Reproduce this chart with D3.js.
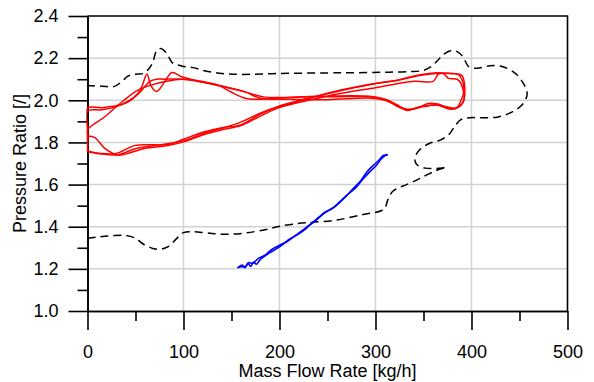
<!DOCTYPE html>
<html>
<head>
<meta charset="utf-8">
<script src="https://cdn.jsdelivr.net/npm/d3@7"></script>
<style>
  body { margin: 0; background: #fff; }
  svg { display: block; }
  text { font-family: "Liberation Sans", Arial, sans-serif; fill: #000; }
</style>
</head>
<body>
<div id="chart"></div>
<script>
// tick values
var xMajor = [0, 100, 200, 300, 400, 500];
var xMinor = [50, 150, 250, 350, 450];
var yMajor = [1.0, 1.2, 1.4, 1.6, 1.8, 2.0, 2.2, 2.4];
var yMinor = [1.1, 1.3, 1.5, 1.7, 1.9, 2.1, 2.3];

// black dashed boundary [mass flow, pressure ratio]
var boundary = [[0,1.345],[12,1.352],[25,1.357],[39,1.359],[50,1.345],[58,1.318],[68,1.297],[76,1.293],[84,1.305],[92,1.34],
  [100,1.372],[110,1.376],[125,1.37],[143,1.364],[164,1.37],[185,1.386],[200,1.402],[219,1.415],[235,1.421],[260,1.432],
  [287,1.458],[306,1.476],[310,1.49],[313,1.53],[318,1.568],[328,1.592],[340,1.615],[353,1.645],[364,1.668],[374,1.682],
  [365,1.677],[352,1.678],[343,1.695],[341,1.725],[346,1.765],[356,1.795],[368,1.812],[377,1.84],[383,1.88],[389,1.908],
  [398,1.917],[412,1.917],[428,1.921],[442,1.944],[453,1.98],[458,2.03],[454,2.08],[445,2.13],[430,2.163],[418,2.163],
  [406,2.152],[397,2.16],[393,2.19],[388,2.222],[380,2.237],[370,2.215],[365,2.19],[358,2.16],[350,2.142],[335,2.136],
  [310,2.133],[280,2.131],[250,2.13],[200,2.127],[160,2.123],[140,2.127],[122,2.14],[110,2.155],[98,2.163],[88,2.18],
  [83,2.22],[77,2.245],[72,2.235],[68,2.18],[64,2.15],[58,2.127],[50,2.124],[42,2.115],[36,2.09],[28,2.066],[15,2.067],[0,2.07]];

// red cycles
var redCycle1 = [[0,1.756],[15,1.745],[32,1.742],[50,1.77],[70,1.785],[85,1.795],[102,1.81],[119,1.84],[136,1.862],[159,1.895],
  [183,1.945],[200,1.97],[228,2.005],[263,2.045],[298,2.077],[325,2.096],[346,2.118],[367,2.128],[386,2.123],[390,2.10],
  [392,2.04],[389,2.0],[385,1.965],[378,1.957],[364,1.978],[350,1.97],[333,1.955],[322,1.972],[315,1.995],[298,2.015],
  [260,2.017],[230,2.017],[200,2.01],[175,2.005],[164,2.01],[150,2.038],[136,2.072],[119,2.088],[98,2.112],[88,2.132],
  [80,2.085],[72,2.042],[66,2.07],[62,2.125],[57,2.07],[53,2.035],[42,1.995],[32,1.976],[15,1.965],[0,1.963],[0,1.85],[0,1.756]];
var redCycle2 = [[0,1.76],[14,1.748],[30,1.748],[50,1.786],[84,1.79],[100,1.815],[120,1.848],[140,1.87],[159,1.882],[180,1.935],
  [200,1.973],[230,2.01],[265,2.05],[300,2.08],[325,2.098],[345,2.12],[370,2.128],[376,2.104],[385,2.10],[389,2.08],
  [392,2.0],[386,1.968],[378,1.962],[365,1.982],[355,1.985],[343,1.962],[333,1.958],[320,1.98],[310,2.0],[295,2.01],
  [250,2.003],[210,2.005],[180,2.01],[164,2.04],[140,2.065],[120,2.085],[100,2.10],[80,2.10],[72,2.10],[65,2.09],
  [55,2.04],[45,2.0],[30,1.97],[15,1.955],[0,1.949],[0,1.86],[0,1.76]];
var redCycle3 = [[0,1.83],[8,1.822],[18,1.772],[32,1.74],[45,1.752],[60,1.772],[84,1.785],[102,1.805],[120,1.835],[140,1.86],
  [160,1.88],[180,1.925],[200,1.965],[230,2.0],[260,2.03],[300,2.06],[340,2.09],[360,2.09],[366,2.125],[380,2.126],
  [390,2.118],[393,2.06],[391,1.99],[384,1.962],[375,1.968],[363,1.978],[345,1.968],[333,1.952],[322,1.98],[310,2.005],
  [290,2.02],[250,2.02],[215,2.015],[185,2.015],[164,2.04],[140,2.068],[118,2.09],[98,2.10],[81,2.089],[67,2.073],
  [53,2.049],[36,1.993],[18,1.922],[0,1.86],[0,1.83]];

// blue up and down passes
var blueUp = [[157,1.207],[161,1.218],[164,1.206],[167,1.226],[170,1.212],[173,1.232],[176,1.222],[180,1.245],[187,1.268],
  [195,1.29],[204,1.318],[210,1.34],[218,1.36],[226,1.385],[232,1.41],[238,1.43],[246,1.462],[252,1.48],[258,1.498],
  [265,1.528],[273,1.56],[280,1.588],[287,1.626],[294,1.66],[301,1.692],[306,1.722],[309,1.734],[312,1.745]];
var blueDown = [[313,1.74],[308,1.738],[304,1.718],[298,1.692],[291,1.66],[284,1.614],[277,1.582],[270,1.548],[262,1.512],
  [255,1.486],[247,1.468],[241,1.445],[234,1.418],[226,1.39],[217,1.36],[208,1.33],[200,1.312],[192,1.292],[184,1.262],
  [178,1.25],[172,1.226],[168,1.23],[165,1.213],[160,1.21],[156,1.205]];

var width = 594, height = 382,
    plotLeft = 87.5, plotRight = 567.5, plotTop = 16, plotBottom = 311;

var svg = d3.select("#chart")
            .append("svg")
            .attr("width", width)
            .attr("height", height);

var xScale = d3.scaleLinear().domain([0, 500]).range([plotLeft, plotRight]);
var yScale = d3.scaleLinear().domain([1.0, 2.4]).range([plotBottom, plotTop]);

// grid
svg.append("g").selectAll("line")
   .data(xMajor.slice(1, -1))
   .enter().append("line")
   .attr("x1", function(d) { return xScale(d); })
   .attr("x2", function(d) { return xScale(d); })
   .attr("y1", plotTop).attr("y2", plotBottom)
   .style("stroke", "#d2d2d2").style("stroke-width", 1.5);
svg.append("g").selectAll("line")
   .data(yMajor.slice(1, -1))
   .enter().append("line")
   .attr("y1", function(d) { return yScale(d); })
   .attr("y2", function(d) { return yScale(d); })
   .attr("x1", plotLeft).attr("x2", plotRight)
   .style("stroke", "#d2d2d2").style("stroke-width", 1.5);

// axes
function styleAxis(g) {
  g.selectAll("line, path").style("stroke", "#000").style("stroke-width", 1.6);
  g.selectAll("text").style("font-size", "18px").style("font-family", "'Liberation Sans', Arial, sans-serif");
}
svg.append("g").attr("transform", "translate(0," + plotBottom + ")")
   .call(d3.axisBottom(xScale).tickValues(xMinor).tickSize(10).tickSizeOuter(0).tickFormat(""))
   .call(styleAxis);
svg.append("g").attr("transform", "translate(0," + plotBottom + ")")
   .call(d3.axisBottom(xScale).tickValues(xMajor).tickSize(19).tickSizeOuter(0).tickPadding(15).tickFormat(d3.format("d")))
   .call(styleAxis);
svg.append("g").attr("transform", "translate(" + plotLeft + ",0)")
   .call(d3.axisLeft(yScale).tickValues(yMinor).tickSize(10).tickSizeOuter(0).tickFormat(""))
   .call(styleAxis);
svg.append("g").attr("transform", "translate(" + plotLeft + ",0)")
   .call(d3.axisLeft(yScale).tickValues(yMajor).tickSize(19).tickSizeOuter(0).tickPadding(10).tickFormat(d3.format(".1f")))
   .call(styleAxis);

// top and right border
svg.append("path")
   .attr("d", "M" + plotLeft + "," + plotTop + "H" + plotRight + "V" + plotBottom)
   .style("fill", "none").style("stroke", "#000").style("stroke-width", 1.6);

// clip for the data
svg.append("clipPath").attr("id", "plotClip")
   .append("rect").attr("x", plotLeft - 1).attr("y", plotTop)
   .attr("width", plotRight - plotLeft + 2).attr("height", plotBottom - plotTop);

var line = d3.line()
             .x(function(d) { return xScale(d[0]); })
             .y(function(d) { return yScale(d[1]); })
             .curve(d3.curveCatmullRom.alpha(0.5));

var plot = svg.append("g").attr("clip-path", "url(#plotClip)");

plot.append("path").datum(boundary)
    .attr("d", line)
    .style("fill", "none").style("stroke", "#000").style("stroke-width", 1.5)
    .style("stroke-dasharray", "8,5");

[redCycle1, redCycle2, redCycle3].forEach(function(c) {
  plot.append("path").datum(c)
      .attr("d", line)
      .style("fill", "none").style("stroke", "#ff0000").style("stroke-width", 1.5);
});

[blueUp, blueDown].forEach(function(c) {
  plot.append("path").datum(c)
      .attr("d", line)
      .style("fill", "none").style("stroke", "#0000ff").style("stroke-width", 1.6);
});

// axis labels
svg.append("text")
   .attr("x", (plotLeft + plotRight) / 2).attr("y", 376.5)
   .style("text-anchor", "middle").style("font-size", "18px")
   .text("Mass Flow Rate [kg/h]");
svg.append("text")
   .attr("transform", "translate(26," + (plotTop + plotBottom) / 2 + ") rotate(-90)")
   .style("text-anchor", "middle").style("font-size", "18px")
   .text("Pressure Ratio [/]");
</script>
</body>
</html>
